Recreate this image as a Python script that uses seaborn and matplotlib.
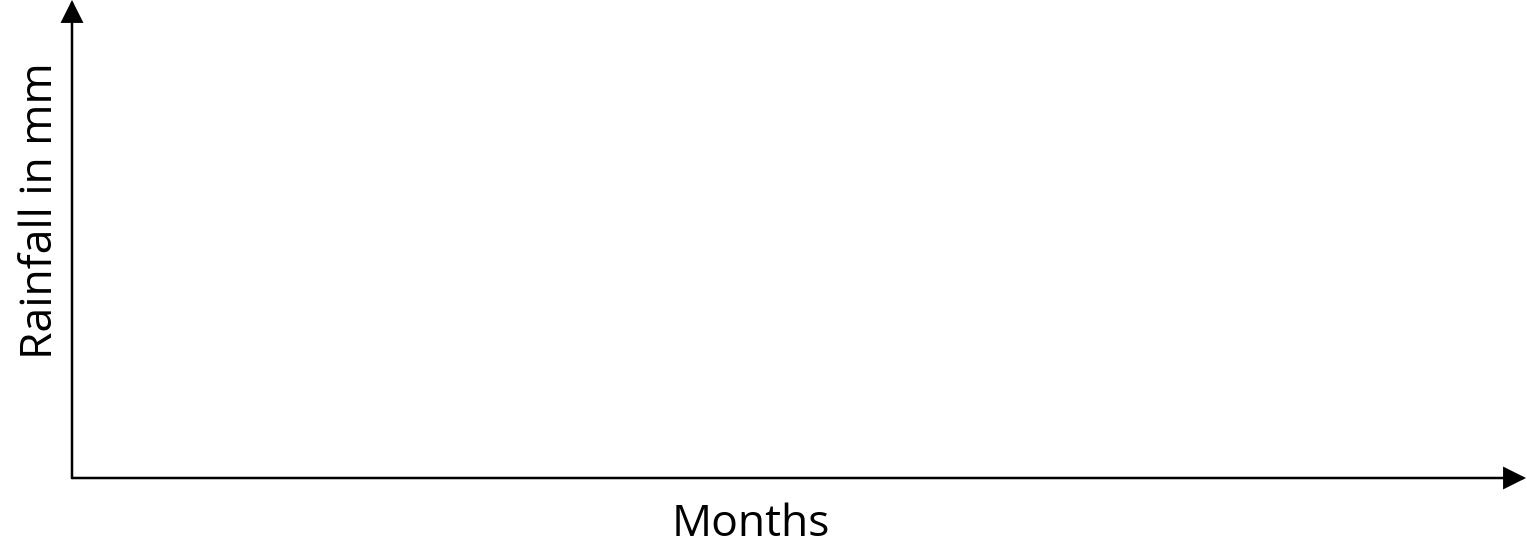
import matplotlib
matplotlib.use("Agg")
import matplotlib.pyplot as plt
import seaborn as sns

# ======================================================
# Data (blank template chart: no values plotted)
# ======================================================

months = []
rainfall = []

x_label = "Months"
y_label = "Rainfall in mm"

# ======================================================
# Style
# ======================================================

sns.set_style("white")
plt.rcParams['font.family'] = ['Open Sans', 'DejaVu Sans']

W, H, DPI = 1527, 557, 100
fig = plt.figure(figsize=(W / DPI, H / DPI), dpi=DPI)

left, right = 72, 1526
top, bottom = 0, 478
ax = fig.add_axes([left / W, (H - bottom) / H, (right - left) / W, (bottom - top) / H])

sns.lineplot(x=months, y=rainfall, ax=ax)

ax.set_xlim(0, 1)
ax.set_ylim(0, 1)
ax.set_xticks([])
ax.set_yticks([])
for s in ax.spines.values():
    s.set_visible(False)

# ======================================================
# Axis arrows
# ======================================================

arrow = dict(arrowstyle='-|>', lw=1.8, color='black', mutation_scale=34,
             shrinkA=0, shrinkB=0, joinstyle='miter')
ax.annotate('', xy=(1, 0), xytext=(0, 0), xycoords='axes fraction',
            arrowprops=arrow, annotation_clip=False)
ax.annotate('', xy=(0, 1), xytext=(0, 0), xycoords='axes fraction',
            arrowprops=arrow, annotation_clip=False)

# ======================================================
# Labels
# ======================================================

ax.set_xlabel(x_label, fontsize=32, va='center', color='black')
ax.xaxis.set_label_coords(0.467, -0.097)
ax.set_ylabel(y_label, fontsize=32, va='center', color='black')
ax.yaxis.set_label_coords(-0.0215, 0.56)

fig.savefig("out.png", dpi=DPI)
